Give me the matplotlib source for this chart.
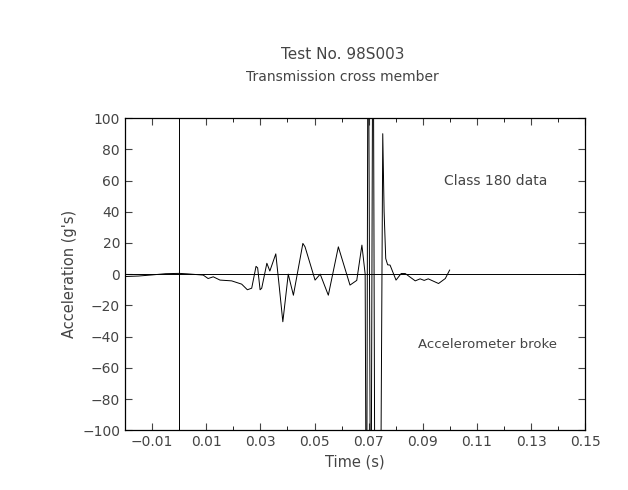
import matplotlib.pyplot as plt
import numpy as np

# acceleration trace (time in s, acceleration in g's)
time_s = [-0.0196, -0.015, -0.01, -0.005, 0.0, 0.003, 0.0089, 0.0107, 0.0126, 0.0151, 0.0194,
          0.0231, 0.0252, 0.0268, 0.0284, 0.029, 0.0299, 0.0305, 0.0324, 0.0335, 0.0357,
          0.0368, 0.0383, 0.0403, 0.0422, 0.0457, 0.0465, 0.0502, 0.0521, 0.0551, 0.0588,
          0.0631, 0.0656, 0.0675, 0.0687, 0.0692, 0.0698, 0.0708, 0.0716, 0.0724, 0.0742,
          0.0752, 0.0757, 0.0763, 0.0770, 0.0779, 0.0801, 0.082, 0.0835, 0.0872, 0.089,
          0.0905, 0.092, 0.0958, 0.0983, 0.0999]
accel_g = [-1.5, -1.2, -0.5, 0.3, 0.5, 0.2, -0.6, -2.8, -1.7, -3.8, -4.3,
           -6.4, -10, -9, 5, 4, -10, -9, 7, 2, 13,
           -5, -30.5, 0, -13.5, 19.7, 17.5, -3.8, 0, -13.5, 17.5,
           -7, -4, 18.6, 0, -220, 220, -220, 220, -220, -220,
           90, 40, 10, 6, 5.8, -3.8, 0.4, 0.4, -4.3, -3,
           -4, -3, -6, -2.8, 2.6]

x_ticks = [-0.01, 0.01, 0.03, 0.05, 0.07, 0.09, 0.11, 0.13, 0.15]
y_ticks = [-100, -80, -60, -40, -20, 0, 20, 40, 60, 80, 100]

ink = '#444444'
plt.rcParams['font.family'] = 'DejaVu Sans'

fig = plt.figure(figsize=(6.28, 4.9), dpi=100)
ax = fig.add_axes([0.199, 0.122, 0.733, 0.637])

ax.plot(time_s, accel_g, color='black', lw=0.7)
ax.axhline(0, color='black', lw=0.7)
ax.axvline(0, color='black', lw=0.7)

ax.set_xlim(-0.02, 0.15)
ax.set_ylim(-100, 100)
ax.set_xticks(x_ticks)
ax.set_xticklabels(['−0.01', '0.01', '0.03', '0.05', '0.07', '0.09', '0.11', '0.13', '0.15'])
ax.set_xticks(np.arange(-0.02, 0.151, 0.01), minor=True)
ax.set_yticks(y_ticks)
ax.set_yticklabels(['−100', '−80', '−60', '−40', '−20', '0', '20', '40', '60', '80', '100'])
ax.tick_params(direction='in', top=True, right=True, labelsize=10, colors=ink, length=5)
ax.tick_params(which='minor', direction='in', top=True, length=3)
for s in ax.spines.values():
    s.set_linewidth(0.9)

ax.set_xlabel('Time (s)', color=ink, fontsize=10.5)
ax.set_ylabel("Acceleration (g's)", color=ink, fontsize=10.5)

ax.text(0.117, 60, 'Class 180 data', ha='center', va='center', color=ink, fontsize=10)
ax.text(0.114, -45, 'Accelerometer broke', ha='center', va='center', color=ink, fontsize=9.5)

fig.text(0.545, 0.888, 'Test No. 98S003', ha='center', va='center', color=ink, fontsize=11)
fig.text(0.545, 0.843, 'Transmission cross member', ha='center', va='center', color=ink, fontsize=10)

fig.savefig('out.png', dpi=100)
